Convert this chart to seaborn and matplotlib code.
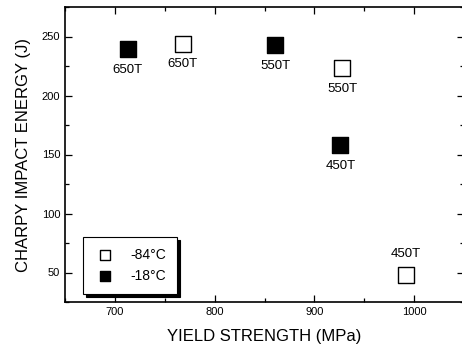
import matplotlib
matplotlib.use("Agg")
import matplotlib.pyplot as plt
from matplotlib.ticker import MultipleLocator
import seaborn as sns
import pandas as pd

# Charpy impact energy vs yield strength for tempered steels
grades = ["650T", "550T", "450T"]
ys_cold = [768, 928, 992]      # yield strength (MPa), tested at -84°C
cve_cold = [244, 223, 48]      # impact energy (J) at -84°C
ys_warm = [713, 861, 926]      # yield strength (MPa), tested at -18°C
cve_warm = [239, 243, 158]     # impact energy (J) at -18°C
temps = ["-84°C", "-18°C"]

df = pd.DataFrame({
    "ys": ys_cold + ys_warm,
    "cve": cve_cold + cve_warm,
    "grade": grades + grades,
    "temp": [temps[0]] * 3 + [temps[1]] * 3,
})

sns.set_style("ticks")
plt.rcParams["font.family"] = ["Liberation Sans", "DejaVu Sans"]
plt.rcParams["text.color"] = "black"
plt.rcParams["axes.labelcolor"] = "black"
plt.rcParams["xtick.color"] = "black"
plt.rcParams["ytick.color"] = "black"

fig = plt.figure(figsize=(4.62, 3.51), dpi=100)
ax = fig.add_axes([65 / 462, 1 - 302 / 351, 399 / 462, 295 / 351])

cold = df[df["temp"] == temps[0]]
warm = df[df["temp"] == temps[1]]
sns.scatterplot(data=cold, x="ys", y="cve", marker="s", s=120,
                facecolor="white", edgecolor="black", linewidth=1.0,
                ax=ax, label=temps[0], zorder=3)
sns.scatterplot(data=warm, x="ys", y="cve", marker="s", s=120,
                color="black", edgecolor="black", linewidth=1.0,
                ax=ax, label=temps[1], zorder=3)

# grade labels next to each point
for _, r in df.iterrows():
    above = r["temp"] == temps[0] and r["grade"] == "450T"
    ax.annotate(r["grade"], (r["ys"], r["cve"]),
                xytext=(0, 15 if above else -15), textcoords="offset points",
                ha="center", va="center", fontsize=9.5)

ax.set_xlim(650, 1050)
ax.set_ylim(25, 275)
ax.xaxis.set_major_locator(MultipleLocator(100))
ax.xaxis.set_minor_locator(MultipleLocator(50))
ax.yaxis.set_major_locator(MultipleLocator(50))
ax.yaxis.set_minor_locator(MultipleLocator(25))
ax.tick_params(which="both", direction="in", top=True, right=True,
               labelsize=8, width=0.9, color="black", labelcolor="black")
ax.tick_params(which="major", length=5)
ax.tick_params(which="minor", length=3)
for sp in ax.spines.values():
    sp.set_linewidth(1.2)
    sp.set_color("black")
ax.spines["right"].set_visible(False)

ax.set_xlabel("YIELD STRENGTH (MPa)", fontsize=12, labelpad=9)
ax.set_ylabel("CHARPY IMPACT ENERGY (J)", fontsize=12, labelpad=8)

leg = ax.legend(loc="lower left", bbox_to_anchor=(0.045, 0.027),
                frameon=True, fancybox=False, edgecolor="black",
                shadow={"color": "black", "alpha": 1.0},
                fontsize=10, markerscale=0.6, handletextpad=1.0,
                borderpad=0.8, labelspacing=0.5, borderaxespad=0,
                handlelength=1.6)
leg.get_frame().set_linewidth(0.8)

fig.savefig("out.png", dpi=100)
